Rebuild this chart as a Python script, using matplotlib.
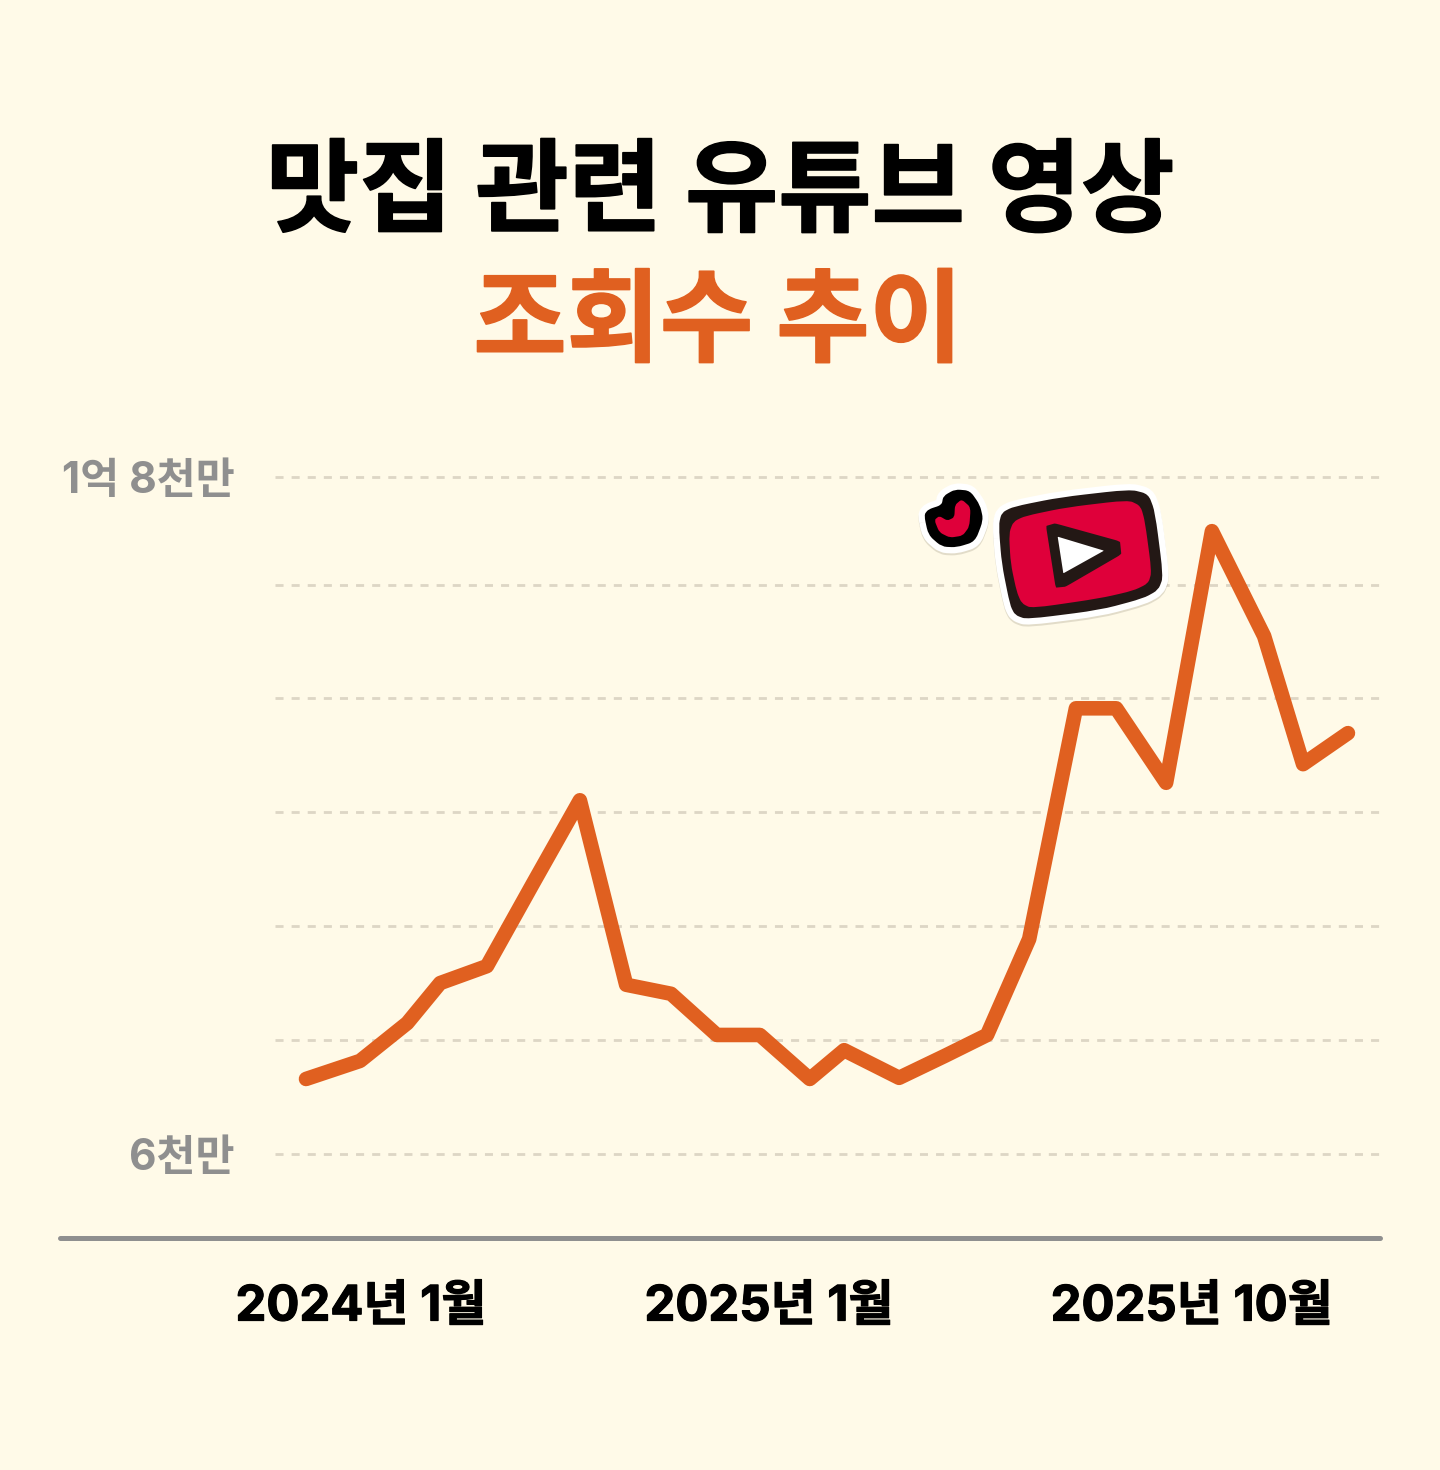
import matplotlib
matplotlib.use('Agg')
from matplotlib import pyplot as plt
from matplotlib import patheffects
from matplotlib.lines import Line2D
from matplotlib.patches import PathPatch
from matplotlib.path import Path

plt.rcParams['font.family'] = ['Inter', 'Noto Sans CJK KR', 'DejaVu Sans']
plt.rcParams['lines.scale_dashes'] = False

BG = '#FFFAE8'
ORANGE = '#E06020'
GRAY = '#8F8F8F'
GRID = '#DDD6C5'
RED = '#DF003A'
DARK = '#231815'

W, H = 1440, 1470

# month position (0 = 2024-01) and views in millions
months = [0, 1.18, 2.21, 2.93, 3.95, 4.96, 5.98, 6.99, 7.97, 8.97, 9.91, 11.0,
          11.75, 12.95, 13.95, 14.87, 15.79, 16.81, 17.69, 18.78, 19.78, 20.92, 21.77, 22.75]
views = [73.3, 76.5, 83.2, 90.3, 93.3, 108.0, 122.7, 90.0, 88.4, 81.1, 81.1, 73.3,
         78.4, 73.5, 77.4, 81.1, 98.1, 139.0, 139.0, 125.8, 170.4, 151.8, 129.1, 134.6]
grid_vals = [60, 80.2, 100.4, 120.6, 140.8, 160.9, 180]
y_ticks = [60, 180]
y_labels = ['6천만', '1억 8천만']
x_ticks = [1.2, 10.11, 19.34]
x_labels = ['2024년 1월', '2025년 1월', '2025년 10월']


def px_axes(x0, y0, x1, y1):
    # axes box given in picture pixels, y measured from the top
    return [x0 / W, 1 - y1 / H, (x1 - x0) / W, (y1 - y0) / H]


def blob(points, t=0.35, ox=900, oy=470, scale=3.0):
    # closed shape with rounded corners, points measured on a 3x crop of the sticker
    pts = [(ox + x / scale, oy + y / scale) for x, y in points]
    n = len(pts)
    verts = []
    codes = []
    for i in range(n):
        px, py = pts[i - 1]
        cx, cy = pts[i]
        nx, ny = pts[(i + 1) % n]
        a = (cx + (px - cx) * t, cy + (py - cy) * t)
        b = (cx + (nx - cx) * t, cy + (ny - cy) * t)
        verts += [a, (cx, cy), b]
        codes += [Path.MOVETO if i == 0 else Path.LINETO, Path.CURVE3, Path.CURVE3]
    verts.append(verts[0])
    codes.append(Path.LINETO)
    return Path(verts, codes)


fig = plt.figure(figsize=(W / 100, H / 100), dpi=100, facecolor=BG)

heavy = [patheffects.withStroke(linewidth=1.2, foreground='black')]
fig.text(720 / W, 1 - 194 / H, '맛집 관련 유튜브 영상', color='black', fontsize=73,
         fontweight='bold', ha='center', va='center', family=['Noto Sans CJK KR'],
         path_effects=heavy)
fig.text(718 / W, 1 - 324 / H, '조회수 추이', color=ORANGE, fontsize=73,
         fontweight='bold', ha='center', va='center', family=['Noto Sans CJK KR'],
         path_effects=[patheffects.withStroke(linewidth=1.2, foreground=ORANGE)])

ax = fig.add_axes(px_axes(275, 477, 1380, 1154), facecolor='none')
ax.set_xlim(-0.677, 23.45)
ax.set_ylim(60, 180)
for v in grid_vals:
    ax.axhline(v, color=GRID, lw=2, linestyle=(0, (5.8, 5.8)), zorder=1, clip_on=False)
ax.plot(months, views, color=ORANGE, lw=10.5, solid_capstyle='round',
        solid_joinstyle='round', zorder=3)
ax.set_yticks(y_ticks, y_labels, color=GRAY, fontsize=30.5, fontweight='bold')
ax.set_xticks(x_ticks, x_labels, color='black', fontsize=35.3, fontweight='bold')
ax.tick_params(axis='y', length=0, pad=29)
ax.tick_params(axis='x', length=0, pad=94)
for lab in ax.get_xticklabels():
    lab.set_path_effects([patheffects.withStroke(linewidth=0.8, foreground='black')])
for s in ax.spines.values():
    s.set_visible(False)

fig.add_artist(Line2D([60 / W, 1380 / W], [1 - 1238 / H] * 2, color=GRAY, lw=3.6,
                      solid_capstyle='round'))

# sticker overlay in picture pixels
deco = fig.add_axes([0, 0, 1, 1], facecolor='none')
deco.set_xlim(0, W)
deco.set_ylim(H, 0)
deco.axis('off')

body = [(296, 165), (305, 128), (340, 110), (480, 82), (690, 58), (745, 72), (765, 125), (790, 320),
        (775, 360), (730, 385), (600, 420), (380, 448), (345, 435), (330, 405), (305, 280)]
body_in = [(327, 190), (340, 155), (375, 138), (500, 112), (685, 90), (722, 108), (735, 155), (755, 305),
           (745, 340), (700, 362), (600, 385), (395, 415), (365, 400), (350, 365), (332, 280)]
tri_out = [(438, 168), (465, 160), (660, 214), (664, 253), (497, 350), (467, 353)]
tri_in = [(473, 200), (612, 242), (490, 310)]
heart = [(72, 135), (85, 118), (125, 105), (130, 78), (165, 58), (210, 62), (240, 105), (250, 150), (225, 215),
         (170, 232), (125, 230), (85, 195)]
heart_in = [(103, 150), (118, 138), (142, 152), (163, 142), (165, 105), (185, 88), (212, 112), (208, 170),
            (188, 197), (150, 203), (118, 187)]


def add(points, face, edge='none', lw=0, z=5, alpha=1.0, dy=0, t=0.35):
    path = blob(points, t=t, oy=470 + dy)
    deco.add_patch(PathPatch(path, facecolor=face, edgecolor=edge, lw=lw, zorder=z,
                             alpha=alpha, joinstyle='round'))


for shape, k in ((body, 0.35), (heart, 0.35)):
    add(shape, '#8C8470', '#8C8470', 9, z=4, alpha=0.25, dy=2, t=k)
    add(shape, 'white', 'white', 9, z=5, t=k)
add(body, DARK, z=6)
add(body_in, RED, z=7)
add(tri_out, DARK, z=8, t=0.08)
add(tri_in, 'white', z=9, t=0.02)
add(heart, 'black', z=6)
add(heart_in, RED, z=7, t=0.3)

fig.savefig('out.png', dpi=100, facecolor=BG)
